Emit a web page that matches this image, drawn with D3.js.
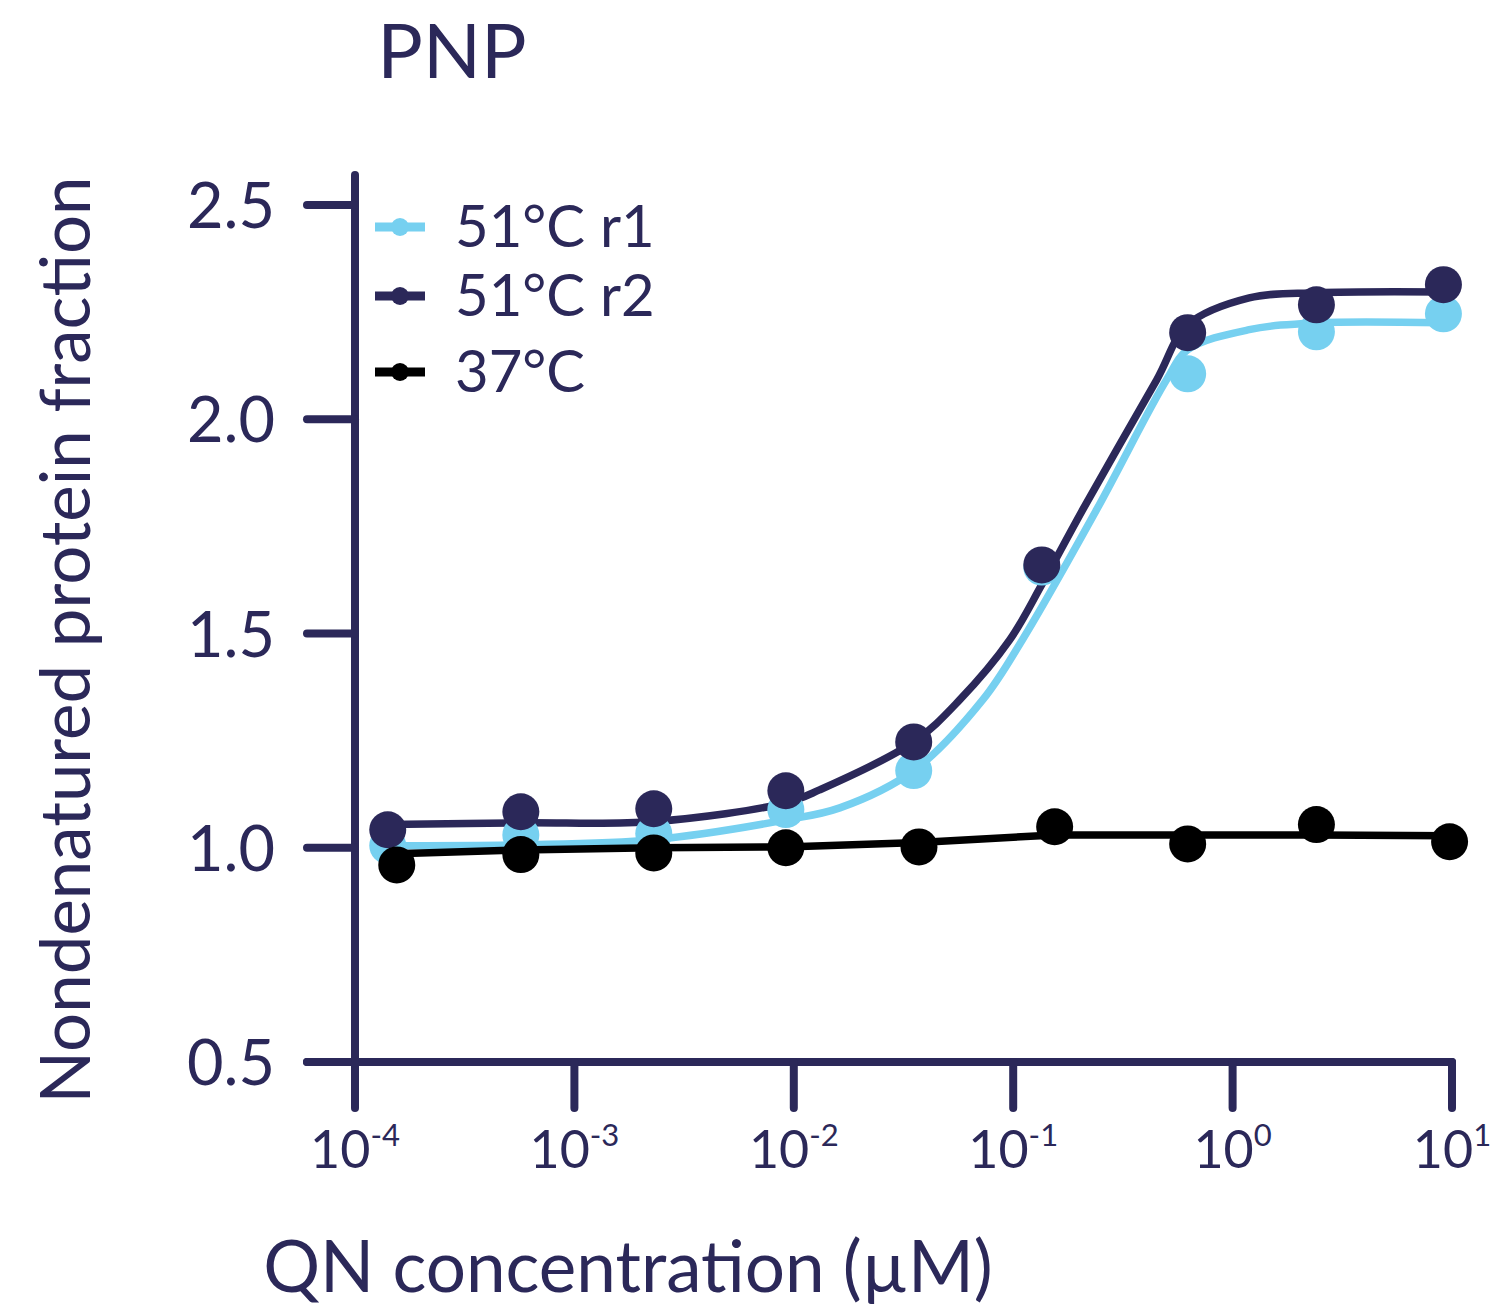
<!DOCTYPE html>
<html>
<head>
<meta charset="utf-8">
<script src="https://cdn.jsdelivr.net/npm/d3@7"></script>
<style>
  body { margin: 0; background: #fff; }
  text { font-family: Lato, "Open Sans", sans-serif; fill: #2b2859; }
</style>
</head>
<body>
<div id="chart"></div>
<script>
let chart_width = 1501;
let chart_height = 1316;

// concentrations (uM) of the measured points
let conc51 = [1.41e-4, 5.7e-4, 2.3e-3, 9.2e-3, 0.0352, 0.135, 0.624, 2.41, 9.14];
let conc37 = [1.55e-4, 5.7e-4, 2.3e-3, 9.2e-3, 0.0372, 0.1545, 0.624, 2.41, 9.75];

let r1_values = [1.005, 1.03, 1.033, 1.089, 1.18, 1.655, 2.106, 2.204, 2.246];
let r2_values = [1.042, 1.084, 1.091, 1.133, 1.247, 1.66, 2.202, 2.267, 2.314];
let t37_values = [0.96, 0.984, 0.988, 1.0, 1.002, 1.049, 1.009, 1.054, 1.014];

// fitted curves
let r1_fit_conc = [1.41e-4, 5.7e-4, 2.3e-3, 9.2e-3, 0.0162, 0.0352, 0.0726, 0.11, 0.24, 0.5, 0.624, 1.19, 2.41, 9.14];
let r1_fit_values = [1.005, 1.007, 1.019, 1.065, 1.093, 1.18, 1.345, 1.485, 1.789, 2.092, 2.162, 2.209, 2.225, 2.225];
let r2_fit_conc = [1.41e-4, 5.7e-4, 2.3e-3, 9.2e-3, 0.0131, 0.0352, 0.057, 0.0964, 0.135, 0.2075, 0.451, 0.624, 1.19, 2.41, 9.14];
let r2_fit_values = [1.054, 1.058, 1.061, 1.105, 1.135, 1.247, 1.345, 1.485, 1.614, 1.789, 2.092, 2.22, 2.283, 2.295, 2.297];
let t37_line_values = [0.986, 0.995, 1.0, 1.002, 1.012, 1.03, 1.03, 1.03, 1.028];

let yTicks = [0.5, 1.0, 1.5, 2.0, 2.5];
let xTickExp = [-4, -3, -2, -1, 0, 1];

let navy = '#2b2859';
let lightBlue = '#76d0f0';

let series = [
    {name: '51°C r1', color: lightBlue, conc: conc51, values: r1_values, lineConc: r1_fit_conc, lineValues: r1_fit_values, curve: d3.curveCatmullRom.alpha(0.5)},
    {name: '51°C r2', color: navy, conc: conc51, values: r2_values, lineConc: r2_fit_conc, lineValues: r2_fit_values, curve: d3.curveCatmullRom.alpha(0.5)},
    {name: '37°C', color: '#000000', conc: conc37, values: t37_values, lineConc: conc37, lineValues: t37_line_values, curve: d3.curveLinear}
];

let xScale = d3.scaleLog().domain([1e-4, 10]).range([355, 1452]);
let yScale = d3.scaleLinear().domain([0.5, 2.5]).range([1062, 205]);

let svg = d3.select('#chart')
    .append('svg')
    .attr('width', chart_width)
    .attr('height', chart_height);

// title
svg.append('text')
    .text('PNP')
    .attr('x', 452)
    .attr('y', 78)
    .attr('text-anchor', 'middle')
    .style('font-size', '76px');

// axes
let axisG = svg.append('g').attr('id', 'axes');

axisG.append('line')
    .attr('x1', 355).attr('x2', 355)
    .attr('y1', 175).attr('y2', 1062)
    .attr('stroke', navy).attr('stroke-width', 8).attr('stroke-linecap', 'round');

axisG.append('line')
    .attr('x1', 307).attr('x2', xScale(10))
    .attr('y1', yScale(0.5)).attr('y2', yScale(0.5))
    .attr('stroke', navy).attr('stroke-width', 8).attr('stroke-linecap', 'round');

yTicks.forEach(function(t){
    axisG.append('line')
        .attr('x1', 307).attr('x2', 355)
        .attr('y1', yScale(t)).attr('y2', yScale(t))
        .attr('stroke', navy).attr('stroke-width', 8).attr('stroke-linecap', 'round');
    axisG.append('text')
        .text(t.toFixed(1))
        .attr('x', 275)
        .attr('y', yScale(t) + 23)
        .attr('text-anchor', 'end')
        .style('font-size', '63px');
});

xTickExp.forEach(function(e){
    let xv = xScale(Math.pow(10, e));
    axisG.append('line')
        .attr('x1', xv).attr('x2', xv)
        .attr('y1', yScale(0.5)).attr('y2', 1108)
        .attr('stroke', navy).attr('stroke-width', 8).attr('stroke-linecap', 'round');
    let label = axisG.append('text')
        .attr('x', xv)
        .attr('y', 1168)
        .attr('text-anchor', 'middle')
        .style('font-size', '52px');
    label.append('tspan').text('10');
    label.append('tspan')
        .text(e < 0 ? '-' + Math.abs(e) : String(e))
        .attr('dy', -22)
        .style('font-size', '31px');
});

// axis titles
svg.append('text')
    .text('QN concentration (µM)')
    .attr('x', 628)
    .attr('y', 1292)
    .attr('text-anchor', 'middle')
    .style('font-size', '71px');

svg.append('text')
    .text('Nondenatured protein fraction')
    .attr('transform', 'translate(90,640) rotate(-90)')
    .attr('text-anchor', 'middle')
    .style('font-size', '69px');

// lines and points
let plot = svg.append('g').attr('id', 'plot');

series.forEach(function(s){
    let pts = s.lineConc.map((c, i) => ({c: c, v: s.lineValues[i]}));
    let line = d3.line()
        .x(d => xScale(d.c))
        .y(d => yScale(d.v))
        .curve(s.curve);
    plot.append('path')
        .datum(pts)
        .attr('d', line)
        .attr('fill', 'none')
        .attr('stroke', s.color)
        .attr('stroke-width', 7.5);
});

series.forEach(function(s){
    plot.append('g')
        .selectAll('circle')
        .data(s.values)
        .enter()
        .append('circle')
        .attr('cx', (d, i) => xScale(s.conc[i]))
        .attr('cy', d => yScale(d))
        .attr('r', 18.5)
        .attr('fill', s.color);
});

// legend
let legend = svg.append('g').attr('id', 'legend');
let legendY = [227, 296, 372];
series.forEach(function(s, i){
    legend.append('line')
        .attr('x1', 375).attr('x2', 425)
        .attr('y1', legendY[i]).attr('y2', legendY[i])
        .attr('stroke', s.color).attr('stroke-width', 9);
    legend.append('circle')
        .attr('cx', 400).attr('cy', legendY[i])
        .attr('r', 9)
        .attr('fill', s.color);
    legend.append('text')
        .text(s.name)
        .attr('x', 455)
        .attr('y', legendY[i] + 20)
        .style('font-size', '58px');
});
</script>
</body>
</html>
